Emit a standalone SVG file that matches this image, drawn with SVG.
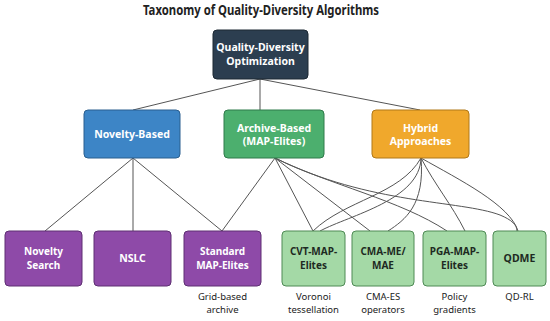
<svg xmlns="http://www.w3.org/2000/svg" width="550" height="321" viewBox="0 0 550 321">
<style>
text{font-family:"Noto Sans","Open Sans","DejaVu Sans",sans-serif;text-anchor:middle}
.t{font-size:14px;font-weight:bold;fill:#222}
.b{font-size:10.5px;font-weight:bold;fill:#fff}
.d{font-size:10.5px;font-weight:bold;fill:#1e2a22}
.sm{font-size:10px}
.s{font-size:9.5px;fill:#222}
.e{fill:none;stroke:#555;stroke-width:1}
.root{fill:#2c3e50;stroke:#1c2833}
.blue{fill:#3d85c6;stroke:#2a5f8f}
.green{fill:#4caf6e;stroke:#2f7a4a}
.orange{fill:#f0a82c;stroke:#b07818}
.purple{fill:#8e4aa8;stroke:#5e2f72}
.lg{fill:#a4d9a6;stroke:#4f8a55}
</style>
<rect width="550" height="321" fill="#fff"/>
<text class="t" x="261" y="15" textLength="236" lengthAdjust="spacingAndGlyphs">Taxonomy of Quality-Diversity Algorithms</text>
<g id="connectors">
<path class="e" d="M260,79 L133,110"/>
<path class="e" d="M260,79 L260,110"/>
<path class="e" d="M260,79 L420,110"/>
<path class="e" d="M133,158 L45,231"/>
<path class="e" d="M133,158 L133,231"/>
<path class="e" d="M133,158 L222,231"/>
<path class="e" d="M275,158 L222,231"/>
<path class="e" d="M275,158 L313,231"/>
<path class="e" d="M275,158 L370,231"/>
<path class="e" d="M275,158 C330,185 400,200 447,231"/>
<path class="e" d="M275,158 C370,205 460,200 500,215 C512,220 517,225 517,231"/>
<path class="e" d="M421,158 C400,195 345,200 313,231"/>
<path class="e" d="M421,158 C420,200 350,215 320,231"/>
<path class="e" d="M421,158 C425,205 405,220 388,231"/>
<path class="e" d="M421,158 C435,185 452,205 465,231"/>
<path class="e" d="M421,158 C460,180 510,205 518,231"/>
</g>
<g id="root"><rect class="root" x="213" y="30" width="95" height="49" rx="4"/><text class="b" x="260.5" y="51">Quality-Diversity</text><text class="b" x="260.5" y="65">Optimization</text></g>
<g id="novelty-based"><rect class="blue" x="84" y="110" width="96" height="48" rx="4"/><text class="b" x="132" y="138">Novelty-Based</text></g>
<g id="archive-based"><rect class="green" x="224" y="110" width="100" height="48" rx="4"/><text class="b" x="274" y="132">Archive-Based</text><text class="b" x="274" y="145">(MAP-Elites)</text></g>
<g id="hybrid"><rect class="orange" x="372" y="110" width="97" height="48" rx="4"/><text class="b" x="420.5" y="132">Hybrid</text><text class="b" x="420.5" y="145">Approaches</text></g>
<g id="novelty-search"><rect class="purple" x="5" y="231" width="77" height="55" rx="4"/><text class="b sm" x="43.5" y="255">Novelty</text><text class="b sm" x="43.5" y="268.5">Search</text></g>
<g id="nslc"><rect class="purple" x="94" y="231" width="77" height="55" rx="4"/><text class="b" x="132.5" y="262">NSLC</text></g>
<g id="standard-map-elites"><rect class="purple" x="184" y="231" width="77" height="55" rx="4"/><text class="b sm" x="222.5" y="255">Standard</text><text class="b sm" x="222.5" y="268.5">MAP-Elites</text><text class="s" x="222.5" y="300">Grid-based</text><text class="s" x="222.5" y="312.5">archive</text></g>
<g id="cvt-map-elites"><rect class="lg" x="282" y="231" width="63" height="55" rx="4"/><text class="d sm" x="313.5" y="255">CVT-MAP-</text><text class="d sm" x="313.5" y="268.5">Elites</text><text class="s" x="313.5" y="300">Voronoi</text><text class="s" x="313.5" y="312.5">tessellation</text></g>
<g id="cma-me"><rect class="lg" x="352" y="231" width="62" height="55" rx="4"/><text class="d sm" x="383" y="255">CMA-ME/</text><text class="d sm" x="383" y="268.5">MAE</text><text class="s" x="383" y="300">CMA-ES</text><text class="s" x="383" y="312.5">operators</text></g>
<g id="pga-map-elites"><rect class="lg" x="423" y="231" width="63" height="55" rx="4"/><text class="d sm" x="454.5" y="255">PGA-MAP-</text><text class="d sm" x="454.5" y="268.5">Elites</text><text class="s" x="454.5" y="300">Policy</text><text class="s" x="454.5" y="312.5">gradients</text></g>
<g id="qdme"><rect class="lg" x="493" y="231" width="53" height="55" rx="4"/><text class="d" x="519.5" y="262">QDME</text><text class="s" x="519.5" y="300">QD-RL</text></g>
</svg>
